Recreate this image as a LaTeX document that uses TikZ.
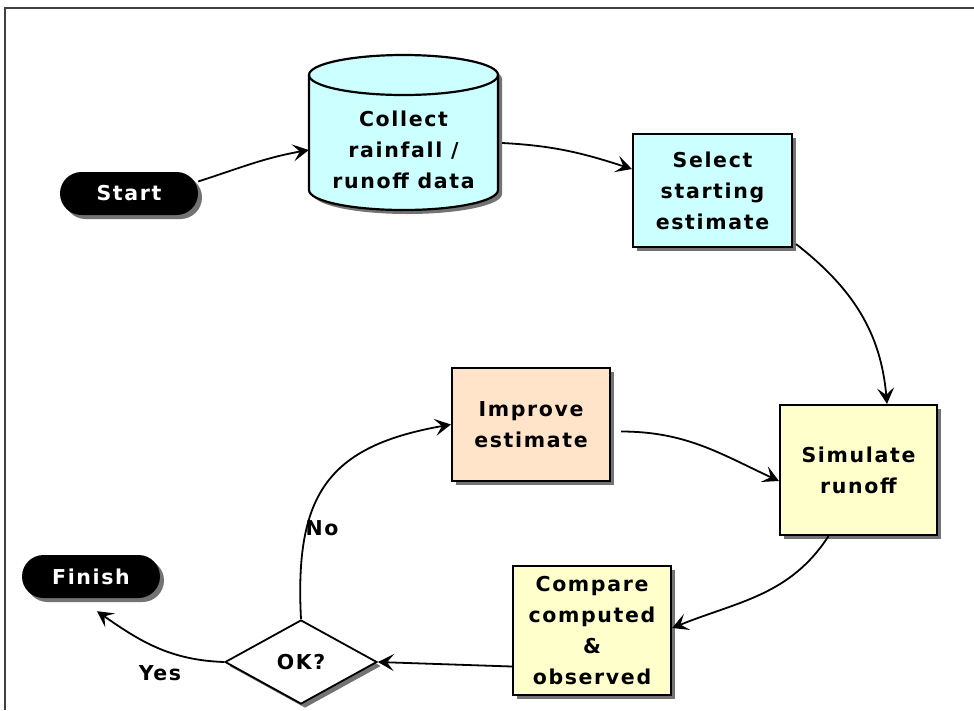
\documentclass[tikz,border=0pt]{standalone}
\usepackage{fontspec}
\newfontfamily\lblfont{DejaVu Sans}[LetterSpace=8]
\usetikzlibrary{arrows.meta,shapes.geometric,shapes.misc,shadows}
\definecolor{cyanfill}{HTML}{CCFFFF}
\definecolor{peach}{HTML}{FFE4CA}
\definecolor{paleyellow}{HTML}{FFFFCC}

\begin{document}
\begin{tikzpicture}[x=1pt,y=1pt,
  lbl/.style={font=\lblfont\bfseries\fontsize{20.5}{31}\selectfont, align=center},
  dropshade/.style={drop shadow={shadow xshift=4pt, shadow yshift=-4pt, fill=black, opacity=0.55}},
  stepbox/.style={lbl, rectangle, draw, line width=2.2pt, inner sep=0pt, dropshade},
  terminal/.style={lbl, rounded rectangle, fill=black, text=white, minimum width=138pt, minimum height=43pt, inner sep=0pt, dropshade},
  decision/.style={lbl, diamond, draw, line width=1.8pt, fill=white, minimum width=152pt, minimum height=84pt, inner sep=0pt, dropshade},
  conn/.style={line width=1.8pt, -{Stealth[length=16pt,width=17pt,inset=7pt]}}
]
\useasboundingbox (0,0) rectangle (974,-710);

% frame (top and left edges)
\draw[line width=2.2pt, black!75] (974,-8) -- (5,-8) -- (5,-710);

% data store drawn as a cylinder
\path[fill=cyanfill, draw, line width=2.2pt, dropshade]
  (309,-75) -- (309,-190)
  arc[start angle=180, end angle=360, x radius=94.5pt, y radius=20pt]
  -- (498,-75)
  arc[start angle=0, end angle=180, x radius=94.5pt, y radius=20pt] -- cycle;
\draw[line width=2.2pt] (309,-75) arc[start angle=180, end angle=360, x radius=94.5pt, y radius=20pt];
\node[lbl, minimum width=189pt, minimum height=110pt, inner sep=0pt] (cyl) at (403.5,-150) {Collect\\rainfall /\\runoff data};

% process steps
\node[terminal] (start) at (129,-193.5) {Start};
\node[stepbox, fill=cyanfill, minimum width=159pt, minimum height=113pt] (sel) at (712.5,-190.5) {Select\\starting\\estimate};
\node[stepbox, fill=paleyellow, minimum width=157pt, minimum height=130pt] (sim) at (858.5,-470) {Simulate\\runoff};
\node[stepbox, fill=peach, minimum width=158pt, minimum height=113pt] (imp) at (531,-424.5) {Improve\\estimate};
\node[stepbox, fill=paleyellow, minimum width=158pt, minimum height=129pt] (cmp) at (592,-630.5) {Compare\\computed\\\&\\observed};
\node[decision] (ok) at (301,-662) {OK?};
\node[terminal] (fin) at (91,-576.5) {Finish};

% branch labels
\node[lbl] (nolbl) at (322,-528) {No};
\node[lbl] (yeslbl) at (160,-673) {Yes};

% connectors
\draw[conn] ([yshift=12pt]start.east) to[out=18, in=190] (cyl.west);
\draw[conn] ([xshift=4pt,yshift=7pt]cyl.east) to[out=-3, in=162] ([yshift=21.5pt]sel.west);
\draw[conn] ([xshift=3pt,yshift=4pt]sel.south east) to[out=-38, in=95] ([xshift=28.5pt]sim.north);
\draw[conn] ([xshift=10pt,yshift=-7pt]imp.east) to[out=0, in=155] ([yshift=-11pt]sim.west);
\draw[conn] ([xshift=-30pt]sim.south) to[out=237, in=22] ([yshift=2.5pt]cmp.east);
\draw[conn] ([yshift=-36pt]cmp.west) -- (ok.east);
\draw[conn] (ok.west) to[out=178, in=-35] ([xshift=6pt,yshift=-13pt]fin.south);
\draw[conn] (ok.north) to[out=93, in=190, looseness=1.3] (imp.west);
\end{tikzpicture}
\end{document}
